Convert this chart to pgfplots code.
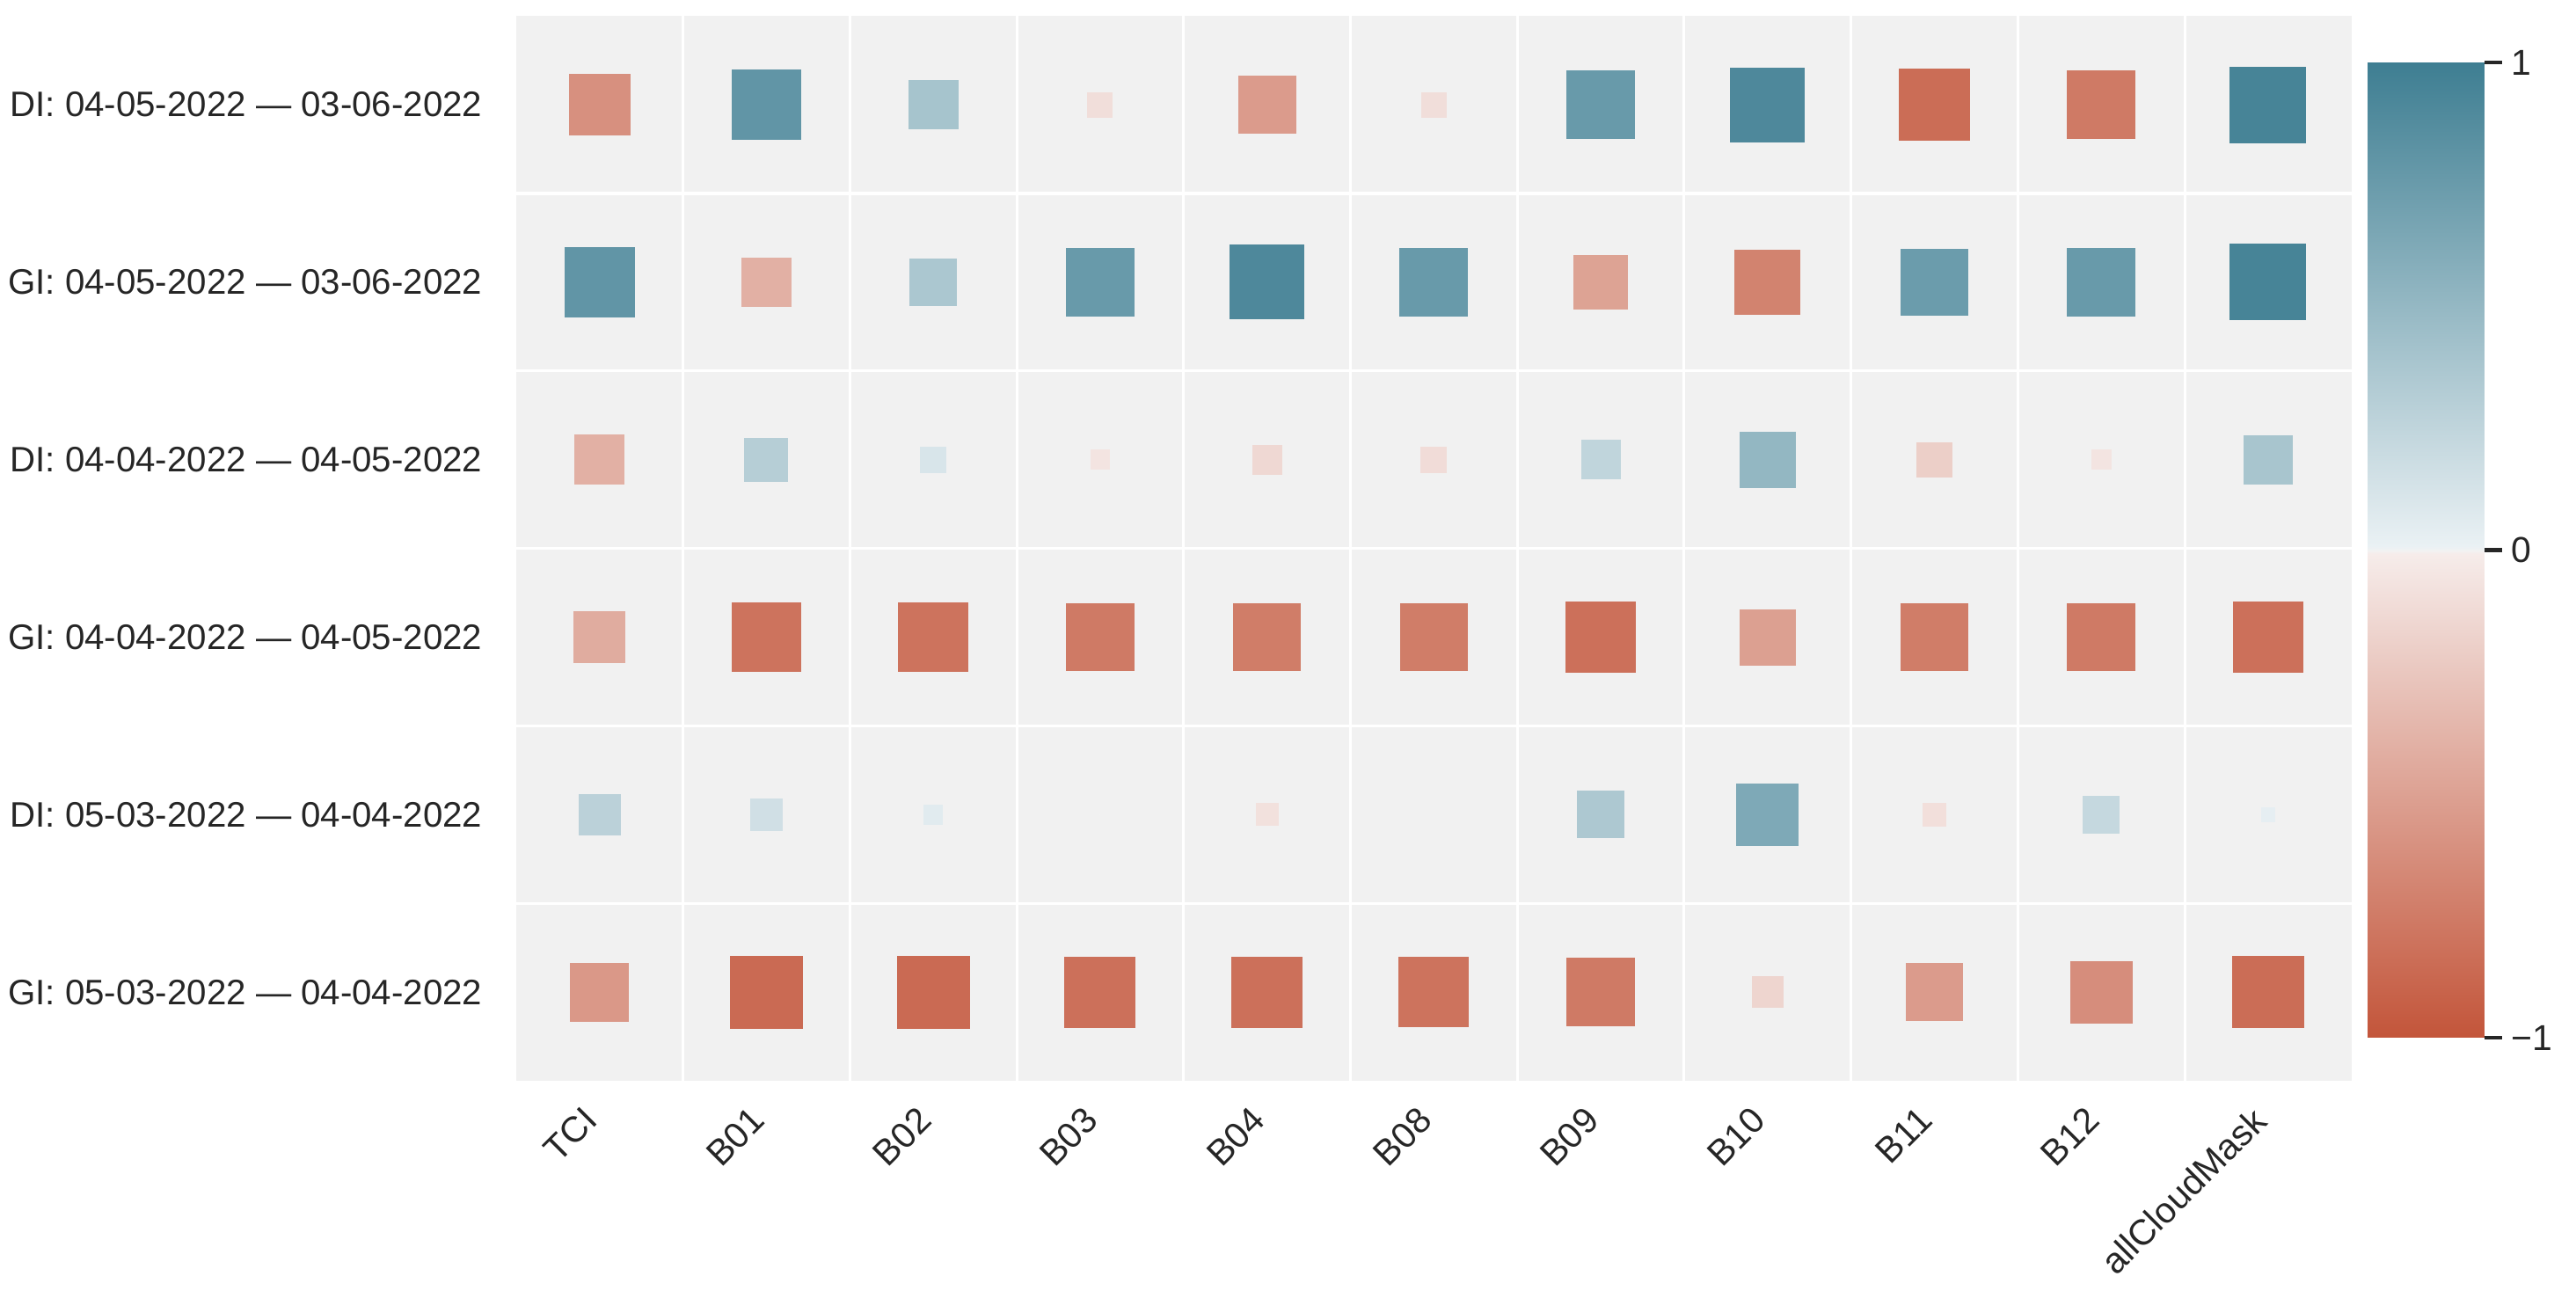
\documentclass[border=0pt]{standalone}
\usepackage{fontspec}
\setmainfont{Liberation Sans}
\usepackage{pgfplots}
\pgfplotsset{compat=1.18}

\definecolor{bgc}{HTML}{F1F1F1}
\definecolor{txt}{HTML}{262626}

\pgfplotsset{
    colormap={div}{rgb255(0pt)=(195,85,58); rgb255(127pt)=(246,236,234);
                   rgb255(128pt)=(242,242,242); rgb255(129pt)=(234,241,244);
                   rgb255(256pt)=(62,126,146)},
    point meta min=-1, point meta max=1,
}

\begin{document}
\begin{tikzpicture}
% page size fixed to the reference proportions
\path[use as bounding box] (0,0) rectangle (858.94pt,432.84pt);
\begin{axis}[
    at={(172.1pt,72.4pt)}, anchor=south west,
    width=612pt, height=355.1pt, scale only axis,
    xmin=-0.5, xmax=10.5, ymin=-0.5, ymax=5.5, y dir=reverse,
    axis background/.style={fill=bgc},
    axis line style={draw=none},
    xtick={0,...,10},
    xticklabels={TCI,B01,B02,B03,B04,B08,B09,B10,B11,B12,allCloudMask},
    ytick={0,...,5},
    yticklabels={DI: 04-05-2022 — 03-06-2022, GI: 04-05-2022 — 03-06-2022,
                 DI: 04-04-2022 — 04-05-2022, GI: 04-04-2022 — 04-05-2022,
                 DI: 05-03-2022 — 04-04-2022, GI: 05-03-2022 — 04-04-2022},
    minor xtick={0.5,1.5,...,9.5}, minor ytick={0.5,1.5,...,4.5},
    xminorgrids, yminorgrids,
    minor grid style={white, line width=0.9pt},
    major tick length=0pt, minor tick length=0pt,
    tick label style={font=\fontsize{12}{14}\selectfont, text=txt},
    xticklabel style={xshift=-5.9pt, yshift=-7.8pt, rotate=45, anchor=north east, inner sep=0pt},
    yticklabel style={font=\fontsize{11.8}{14}\selectfont, anchor=east, inner sep=0pt, xshift=-11.1pt},
]
\addplot[scatter, only marks, mark=square*,
    point meta=\thisrow{v},
    scatter/use mapped color={draw=mapped color, fill=mapped color},
    mark options={line width=0pt},
    visualization depends on={12.6*sqrt(abs(\thisrow{v})/0.95) \as \msz},
    scatter/@pre marker code/.append style={/tikz/mark size=\msz pt},
] table {
x y v
0 0 -0.61
1 0 0.80
2 0 0.40
3 0 -0.10
4 0 -0.54
5 0 -0.10
6 0 0.76
7 0 0.91
8 0 -0.84
9 0 -0.76
10 0 0.95
0 1 0.80
1 1 -0.40
2 1 0.37
3 1 0.76
4 1 0.91
5 1 0.76
6 1 -0.49
7 1 -0.70
8 1 0.74
9 1 0.76
10 1 0.95
0 2 -0.40
1 2 0.31
2 2 0.11
3 2 -0.06
4 2 -0.14
5 2 -0.11
6 2 0.25
7 2 0.51
8 2 -0.20
9 2 -0.06
10 2 0.39
0 3 -0.43
1 3 -0.80
2 3 -0.80
3 3 -0.76
4 3 -0.74
5 3 -0.74
6 3 -0.82
7 3 -0.51
8 3 -0.74
9 3 -0.76
10 3 -0.82
0 4 0.28
1 4 0.16
2 4 0.06
3 4 0.00
4 4 -0.08
5 4 0.00
6 4 0.36
7 4 0.63
8 4 -0.09
9 4 0.22
10 4 0.03
0 5 -0.56
1 5 -0.86
2 5 -0.86
3 5 -0.82
4 5 -0.82
5 5 -0.80
6 5 -0.76
7 5 -0.16
8 5 -0.54
9 5 -0.63
10 5 -0.84
};
\end{axis}

% colour bar, drawn as its own small axis
\begin{axis}[
    at={(789.4pt,86.8pt)}, anchor=south west,
    width=39pt, height=325.2pt, scale only axis,
    xmin=0, xmax=1, ymin=-1, ymax=1,
    axis line style={draw=none},
    xtick=\empty,
    ytick={-1,0,1}, yticklabels={−1,0,1},
    ytick pos=right, yticklabel pos=right,
    tick align=outside, major tick length=5.9pt,
    tick style={line width=1.2pt, color=txt},
    yticklabel style={font=\fontsize{12}{14}\selectfont, text=txt,
                      anchor=west, inner sep=0pt, xshift=2.8pt},
]
\addplot[surf, shader=interp, point meta=y, mesh/rows=5, mesh/cols=2] coordinates {
    (0,-1) (1,-1)
    (0,-0.0078) (1,-0.0078)
    (0,0) (1,0)
    (0,0.0078) (1,0.0078)
    (0,1) (1,1)
};
\end{axis}
\end{tikzpicture}
\end{document}
